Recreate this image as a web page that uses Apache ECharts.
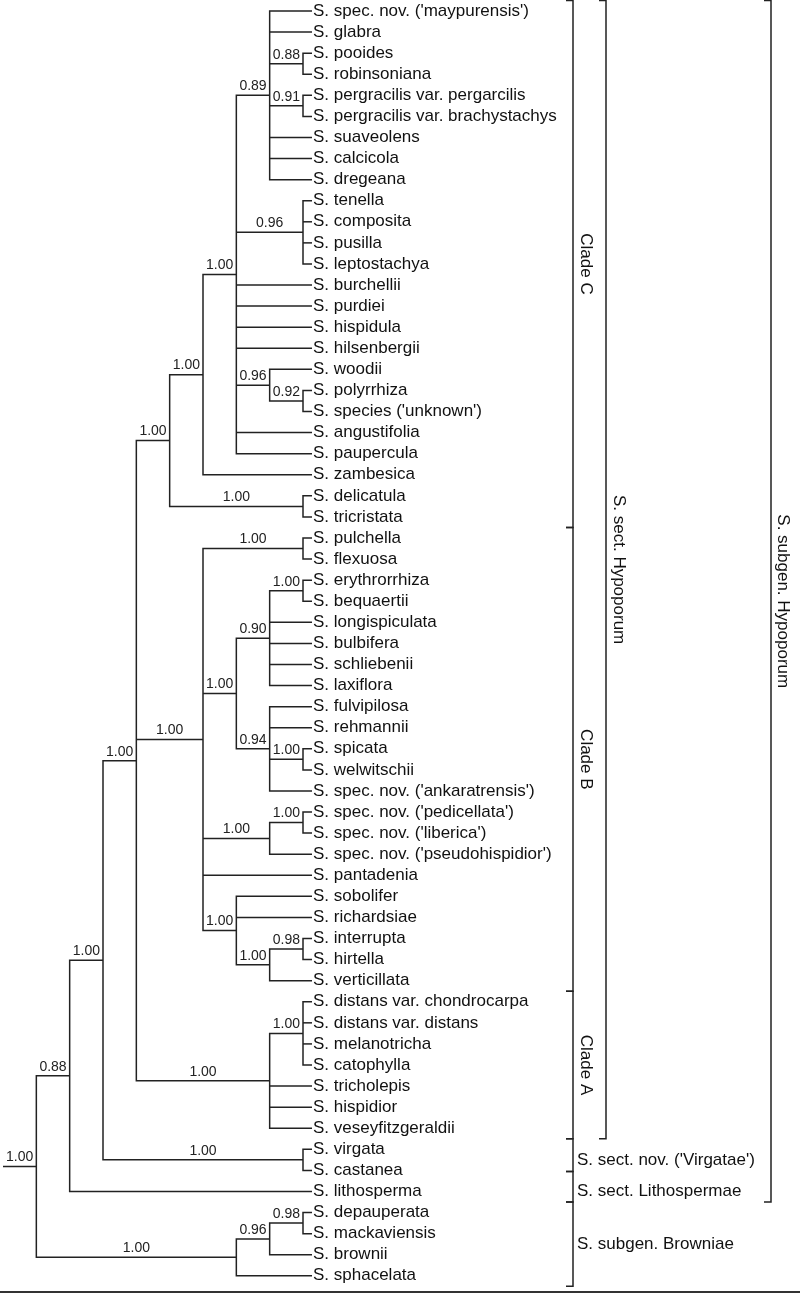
<!DOCTYPE html>
<html><head><meta charset="utf-8">
<script src="https://cdn.jsdelivr.net/npm/echarts@6/dist/echarts.min.js"></script>
<style>html,body{margin:0;padding:0;background:#fff}#c{width:800px;height:1295px}</style>
</head><body><div id="c"></div>
<script>
// ---- taxa (tips, top to bottom) ----
const taxa = [
 "S. spec. nov. ('maypurensis')","S. glabra","S. pooides","S. robinsoniana",
 "S. pergracilis var. pergarcilis","S. pergracilis var. brachystachys","S. suaveolens","S. calcicola",
 "S. dregeana","S. tenella","S. composita","S. pusilla","S. leptostachya","S. burchellii",
 "S. purdiei","S. hispidula","S. hilsenbergii","S. woodii","S. polyrrhiza","S. species ('unknown')",
 "S. angustifolia","S. paupercula","S. zambesica","S. delicatula","S. tricristata",
 "S. pulchella","S. flexuosa","S. erythrorrhiza","S. bequaertii","S. longispiculata","S. bulbifera",
 "S. schliebenii","S. laxiflora","S. fulvipilosa","S. rehmannii","S. spicata","S. welwitschii",
 "S. spec. nov. ('ankaratrensis')","S. spec. nov. ('pedicellata')","S. spec. nov. ('liberica')",
 "S. spec. nov. ('pseudohispidior')","S. pantadenia","S. sobolifer","S. richardsiae",
 "S. interrupta","S. hirtella","S. verticillata",
 "S. distans var. chondrocarpa","S. distans var. distans","S. melanotricha","S. catophylla",
 "S. tricholepis","S. hispidior","S. veseyfitzgeraldii",
 "S. virgata","S. castanea","S. lithosperma",
 "S. depauperata","S. mackaviensis","S. brownii","S. sphacelata"
];
// ---- clades: first / last tip (1-based), node depth level, posterior support ----
const cladeFirst   = [1,1,1,1,1,1,1,1,3,5,10,18,19,24,26,26,28,28,28,34,36,39,39,43,45,45,48,48,55,58,58,58];
const cladeLast    = [61,57,56,54,25,23,22,9,4,6,13,20,20,25,47,27,38,33,29,38,37,41,40,47,47,46,54,51,56,61,60,59];
const cladeLevel   = [1,2,3,4,5,6,7,8,9,9,9,8,9,9,6,9,7,8,9,8,9,8,9,7,8,9,8,9,9,7,8,9];
const cladeSupport = [1.00,0.88,1.00,1.00,1.00,1.00,1.00,0.89,0.88,0.91,0.96,0.96,0.92,1.00,1.00,1.00,1.00,0.90,1.00,0.94,1.00,1.00,1.00,1.00,1.00,0.98,1.00,1.00,1.00,1.00,0.96,0.98];
const rootStubLevel = 0;
const tipLevel = 9.27;
// ---- group brackets (positions in tip units, 1-based) ----
const groupNames  = ["Clade C","Clade B","Clade A","S. sect. nov. ('Virgatae')","S. sect. Lithospermae","S. subgen. Browniae","S. sect. Hypoporum","S. subgen. Hypoporum"];
const groupFrom   = [0.5,25.5,47.5,54.5,56.05,57.5,0.5,0.5];
const groupTo     = [25.5,47.5,54.5,56.05,57.5,61.5,54.5,57.5];
const groupFirst  = [1,26,48,55,57,58,1,1];
const groupLast   = [25,47,54,56,57,61,54,57];
const groupColumn = [0,0,0,0,0,0,1,2];
const groupVertical = [true,true,true,false,false,false,true,true];

// ---- build tree ----
const clades = cladeFirst.map((f,i)=>({first:f-1,last:cladeLast[i]-1,level:cladeLevel[i],support:cladeSupport[i],children:[],parent:null}));
function smallestContaining(a,b,strict){
  let best=null;
  clades.forEach(c=>{
    const sz=c.last-c.first, s=b-a;
    if(c.first<=a && c.last>=b && (!strict || sz>s)){
      if(!best || sz<(best.last-best.first)) best=c;
    }
  });
  return best;
}
clades.forEach(c=>{ c.parent=smallestContaining(c.first,c.last,true); if(c.parent) c.parent.children.push({clade:c,first:c.first}); });
taxa.forEach((t,i)=>{ const p=smallestContaining(i,i,false); p.children.push({leaf:i,first:i}); });
clades.forEach(c=>c.children.sort((a,b)=>a.first-b.first));
function yOf(ch){ if(ch.leaf!==undefined) return ch.leaf; const c=ch.clade; if(c.y===undefined){ c.y=(yOf(c.children[0])+yOf(c.children[c.children.length-1]))/2; } return c.y; }
function xOf(ch){ return ch.leaf!==undefined ? tipLevel : ch.clade.level; }
clades.forEach(c=>yOf({clade:c}));
const segs=[], supportPts=[];
clades.forEach(c=>{
  const ch=c.children, n=ch.length;
  const y0=yOf(ch[0]), y1=yOf(ch[n-1]);
  segs.push({coords:[[xOf(ch[0]),y0],[c.level,y0],[c.level,y1],[xOf(ch[n-1]),y1]]});
  for(let k=1;k<n-1;k++){ const y=yOf(ch[k]); segs.push({coords:[[c.level,y],[xOf(ch[k]),y]]}); }
  const px = c.parent ? c.parent.level : rootStubLevel;
  if(!c.parent) segs.push({coords:[[rootStubLevel,c.y],[c.level,c.y]]});
  supportPts.push([(px+c.level)/2, c.y, c.support.toFixed(2)]);
});
const leafPts = taxa.map((t,i)=>[tipLevel,i,t]);
const groupData = groupNames.map((g,i)=>[groupFrom[i]-1, groupTo[i]-1, (groupFirst[i]+groupLast[i])/2-1, i]);

const FONT='"Liberation Sans", Arial, Helvetica, sans-serif';
const colX=[573,606,771], colTextX=[585.5,619,783], hTextX=577;

const chart=echarts.init(document.getElementById('c'),null,{renderer:'canvas'});
chart.setOption({
  animation:false,
  backgroundColor:'#fff',
  grid:{left:3,right:488,top:11,bottom:19.2},
  xAxis:{type:'value',min:0,max:tipLevel,show:false},
  yAxis:{type:'value',min:0,max:60,inverse:true,show:false},
  graphic:[{type:'rect',left:0,top:1291,shape:{width:800,height:2},style:{fill:'#333'}}],
  series:[
    {type:'lines',coordinateSystem:'cartesian2d',polyline:true,clip:false,silent:true,data:segs,
     lineStyle:{color:'#222',width:1.5,opacity:1}},
    {type:'custom',silent:true,clip:false,data:leafPts,
     renderItem:function(params,api){
       const p=api.coord([api.value(0),api.value(1)]);
       return {type:'text',x:p[0]+1,y:p[1],style:{text:taxa[params.dataIndex],fill:'#111',fontSize:17,fontFamily:FONT,align:'left',verticalAlign:'middle'}};
     }},
    {type:'custom',silent:true,clip:false,data:supportPts,
     renderItem:function(params,api){
       const p=api.coord([api.value(0),api.value(1)]);
       return {type:'text',x:p[0],y:p[1]-2,style:{text:supportPts[params.dataIndex][2],fill:'#222',fontSize:14,fontFamily:FONT,align:'center',verticalAlign:'bottom'}};
     }},
    {type:'custom',silent:true,data:groupData,clip:false,
     renderItem:function(params,api){
       const i=api.value(3);
       const col=groupColumn[i];
       const yA=api.coord([0,api.value(0)])[1];
       const yB=api.coord([0,api.value(1)])[1];
       const cx=colX[col];
       const children=[{type:'polyline',shape:{points:[[cx-7,yA],[cx,yA],[cx,yB],[cx-7,yB]]},
                        style:{stroke:'#222',lineWidth:1.5,fill:null}}];
       if(groupVertical[i]){
         children.push({type:'text',x:colTextX[col],y:(yA+yB)/2,rotation:-Math.PI/2,
           style:{text:groupNames[i],fill:'#111',fontSize:17,fontFamily:FONT,align:'center',verticalAlign:'middle'}});
       } else {
         const yc=api.coord([0,api.value(2)])[1];
         children.push({type:'text',x:hTextX,y:yc,
           style:{text:groupNames[i],fill:'#111',fontSize:17,fontFamily:FONT,align:'left',verticalAlign:'middle'}});
       }
       return {type:'group',children:children};
     }}
  ]
});
</script></body></html>
